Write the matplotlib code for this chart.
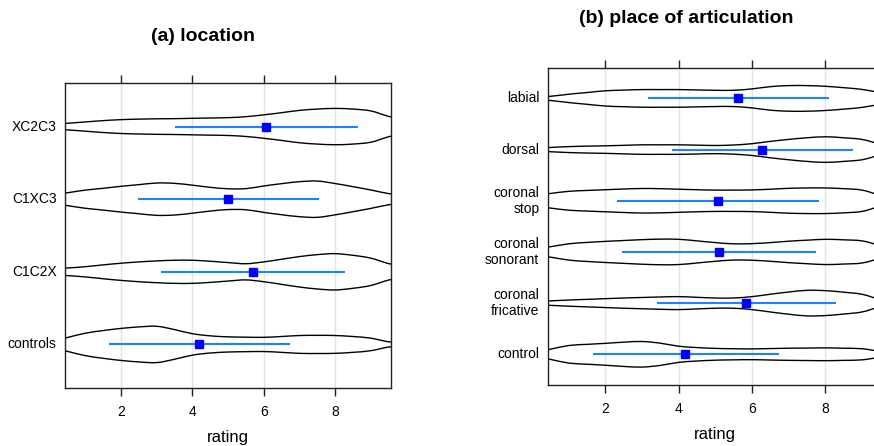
import numpy as np
import matplotlib.pyplot as plt
from matplotlib.path import Path
from matplotlib.patches import PathPatch

plt.rcParams['font.family'] = ['Liberation Sans', 'DejaVu Sans']

# rating grid on which the violin densities are read
grid = [0.0, 0.5, 1.0, 1.5, 2.0, 2.5, 3.0, 3.5, 4.0, 4.5, 5.0,
        5.5, 6.0, 6.5, 7.0, 7.5, 8.0, 8.5, 9.0, 9.5, 10.0]

# (a) location
loc_labels = ["controls", "C1C2X", "C1XC3", "XC2C3"]
loc_mean = [4.19, 5.71, 5.01, 6.07]
loc_lo = [1.67, 3.13, 2.49, 3.51]
loc_hi = [6.73, 8.27, 7.56, 8.65]
loc_density = [
    [8, 21, 34, 42, 48.5, 53, 55, 45, 32.5, 26, 23, 22, 21.5, 24, 27, 27.5, 27, 24, 19, 8, 3],
    [8, 11.5, 15.5, 21, 26, 30, 33, 35, 35, 32, 28, 24.5, 30, 38, 46, 52, 55, 50, 41.5, 25, 14],
    [12, 19.5, 27.5, 33, 39, 44, 49, 48, 42.5, 36, 31.5, 32, 40, 47, 53, 55, 47.5, 38, 28, 17, 10],
    [6, 10, 14, 18, 21, 22.5, 23.5, 24, 25, 26, 27, 30, 35.5, 42, 49, 53, 55, 53, 47.5, 31, 18],
]

# (b) place of articulation
poa_labels = ["control", "coronal\nfricative", "coronal\nsonorant",
              "coronal\nstop", "dorsal", "labial"]
poa_mean = [4.18, 5.85, 5.11, 5.08, 6.28, 5.63]
poa_lo = [1.66, 3.41, 2.46, 2.33, 3.83, 3.17]
poa_hi = [6.73, 8.28, 7.74, 7.84, 8.75, 8.09]
poa_density = [
    [5, 15, 26, 29.5, 32.5, 36, 38, 33, 24, 20, 17.5, 16.5, 16, 17, 18, 18.5, 19, 18, 16.5, 9, 5],
    [4, 6.5, 9, 11, 13, 15, 16.5, 18, 19, 17, 15, 15, 19, 26, 32.5, 37.5, 36.5, 32, 26, 11, 6],
    [8, 15, 23.5, 27.5, 30.5, 33, 35.5, 37, 36.5, 32, 27, 23.5, 24, 27, 31, 34, 36.5, 35, 32, 19, 10],
    [14, 20.5, 26.5, 29, 31, 33, 34.5, 34, 32.5, 31, 30, 30, 30.5, 32.5, 35, 36, 36, 34, 30, 16, 9],
    [4, 6.5, 9, 10.5, 11.5, 13, 14.5, 14.5, 14.5, 13.5, 12.5, 14, 18, 25, 31, 36, 39, 36, 31, 17, 10],
    [2, 6, 12, 17, 22, 24, 25.5, 25.5, 25.5, 24.5, 23.5, 23.5, 27.5, 34, 37, 37, 35, 31, 26, 17, 10],
]


def smooth_path(x, y):
    # Catmull-Rom through the points, written as cubic Bezier segments
    x = np.asarray(x, float)
    y = np.asarray(y, float)
    verts = [(x[0], y[0])]
    codes = [Path.MOVETO]
    n = len(x)
    for i in range(n - 1):
        p0 = np.array([x[max(i - 1, 0)], y[max(i - 1, 0)]])
        p1 = np.array([x[i], y[i]])
        p2 = np.array([x[i + 1], y[i + 1]])
        p3 = np.array([x[min(i + 2, n - 1)], y[min(i + 2, n - 1)]])
        c1 = p1 + (p2 - p0) / 6
        c2 = p2 - (p3 - p1) / 6
        verts += [tuple(c1), tuple(c2), tuple(p2)]
        codes += [Path.CURVE4] * 3
    return Path(verts, codes)


def violin_panel(ax, labels, density, mean, lo, hi):
    gx = np.array(grid)
    for i, d in enumerate(density):
        pos = i + 1
        half = 0.25 * np.array(d) / max(d)
        for sign in (1, -1):
            ax.add_patch(PathPatch(smooth_path(gx, pos + sign * half),
                                   fill=False, ec="black", lw=1.0))
        ax.plot([lo[i], hi[i]], [pos, pos], color="#1a84ff", lw=1.5,
                solid_capstyle="butt", zorder=3)
        ax.plot(mean[i], pos, marker="s", ms=6, color="#0000ff",
                mec="#0000ff", zorder=4)

    for gxl in (2, 4, 6, 8):
        ax.axvline(gxl, color="#e4e4e4", lw=1.0, zorder=0)

    ax.set_xlim(0.43, 9.57)
    ax.set_ylim(0.4, len(labels) + 0.6)
    ax.set_xticks([2, 4, 6, 8])
    ax.set_yticks(range(1, len(labels) + 1))
    ax.set_yticklabels(labels, fontsize=10, ha="right", va="center")
    ax.tick_params(axis="y", length=0, pad=6)
    ax.tick_params(axis="x", direction="out", length=6, width=1.0,
                   top=True, labelsize=10, pad=6, color="#222222")
    for s in ax.spines.values():
        s.set_color("#222222")
        s.set_linewidth(1.0)
    ax.set_xlabel("rating", fontsize=12, labelpad=8)


fig = plt.figure(figsize=(8.74, 4.46), dpi=100)

ax1 = fig.add_axes([65 / 874, 58 / 446, 326 / 874, 305 / 446])
violin_panel(ax1, loc_labels, loc_density, loc_mean, loc_lo, loc_hi)

ax2 = fig.add_axes([547.7 / 874, 61 / 446, 335.2 / 874, 317.3 / 446])
violin_panel(ax2, poa_labels, poa_density, poa_mean, poa_lo, poa_hi)

fig.text(203 / 874, 1 - 36.7 / 446, "(a) location", ha="center",
         va="center", fontsize=14, fontweight="bold")
fig.text(686 / 874, 1 - 18.3 / 446, "(b) place of articulation", ha="center",
         va="center", fontsize=14, fontweight="bold")

fig.savefig("out.png", dpi=100)
